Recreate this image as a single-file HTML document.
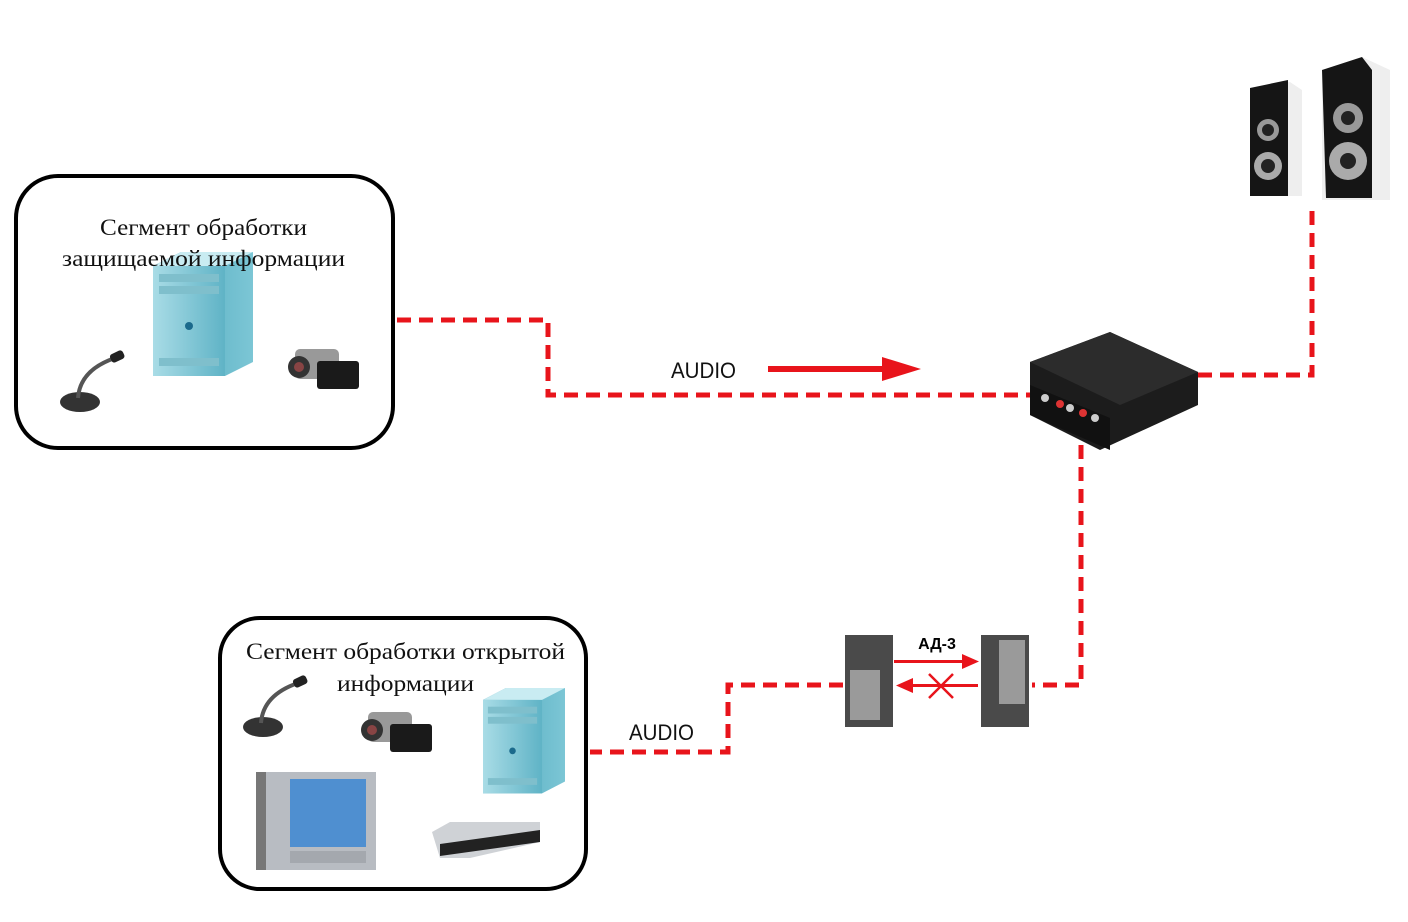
<!DOCTYPE html>
<html><head><meta charset="utf-8"><style>
html,body{margin:0;padding:0;background:#fff;}
svg{display:block;}
.seg{font-family:"Liberation Serif","Noto Serif CJK SC",serif;font-size:23px;fill:#111;}
.aud{font-family:"Liberation Sans",sans-serif;font-size:22px;fill:#111;}
.dash{fill:none;stroke:#e8141b;stroke-width:5;stroke-dasharray:14 8;}
</style></head><body>
<svg width="1408" height="922" viewBox="0 0 1408 922" xmlns="http://www.w3.org/2000/svg">
<defs>
<linearGradient id="pcF" x1="0" x2="1"><stop offset="0" stop-color="#a9dce6"/><stop offset="1" stop-color="#5fb3c6"/></linearGradient>
<linearGradient id="pcS" x1="0" x2="1"><stop offset="0" stop-color="#4aa5bb"/><stop offset="1" stop-color="#7cc6d5"/></linearGradient>
<g id="pc">
 <polygon points="0,14 28,0 100,0 100,110 72,124 0,124" fill="url(#pcS)"/>
 <rect x="0" y="14" width="72" height="110" fill="url(#pcF)"/>
 <polygon points="0,14 28,0 100,0 72,14" fill="#c9ecf2"/>
 <rect x="6" y="22" width="60" height="8" fill="#7fbfcc"/><rect x="6" y="34" width="60" height="8" fill="#7fbfcc"/>
 <circle cx="36" cy="74" r="4" fill="#1b6a8c"/>
 <rect x="6" y="106" width="60" height="8" fill="#7fbfcc"/>
</g>
<g id="mic">
 <ellipse cx="20" cy="52" rx="20" ry="10" fill="#333"/>
 <path d="M18,48 Q20,20 55,8" stroke="#555" stroke-width="4" fill="none"/>
 <rect x="50" y="2" width="14" height="9" rx="3" fill="#222" transform="rotate(-25 57 6)"/>
</g>
<g id="cam">
 <rect x="8" y="4" width="44" height="30" rx="5" fill="#999"/>
 <circle cx="12" cy="22" r="11" fill="#333"/><circle cx="12" cy="22" r="5" fill="#844"/>
 <rect x="30" y="16" width="42" height="28" rx="3" fill="#1a1a1a"/>
</g>
</defs>

<rect x="16" y="176" width="377" height="272" rx="42" fill="none" stroke="#000" stroke-width="4"/>
<use href="#pc" x="153" y="252"/>
<use href="#mic" x="60" y="350"/>
<use href="#cam" x="287" y="345"/>
<text class="seg" x="100" y="235" textLength="207" lengthAdjust="spacingAndGlyphs">Сегмент обработки</text>
<text class="seg" x="62" y="266" textLength="283" lengthAdjust="spacingAndGlyphs">защищаемой информации</text>

<rect x="220" y="618" width="366" height="271" rx="40" fill="none" stroke="#000" stroke-width="4"/>
<use href="#mic" x="243" y="675"/>
<use href="#cam" x="360" y="708"/>
<g transform="translate(483,688) scale(0.82,0.85)"><use href="#pc"/></g>
<rect x="256" y="772" width="120" height="98" fill="#b8bcc2"/>
<rect x="256" y="772" width="10" height="98" fill="#777"/>
<rect x="290" y="779" width="76" height="68" fill="#4f8fd0"/>
<rect x="290" y="851" width="76" height="12" fill="#a4a8ae"/>
<polygon points="432,832 450,822 540,822 540,842 470,858 440,858" fill="#cfd2d6"/>
<polygon points="440,844 540,830 540,842 440,856" fill="#222"/>
<text class="seg" x="246" y="659" textLength="319" lengthAdjust="spacingAndGlyphs">Сегмент обработки открытой</text>
<text class="seg" x="337" y="691" textLength="137" lengthAdjust="spacingAndGlyphs">информации</text>

<path class="dash" d="M397,320 H548 V395 H1035"/>
<text class="aud" x="671" y="378" textLength="65" lengthAdjust="spacingAndGlyphs">AUDIO</text>
<rect x="768" y="366" width="116" height="6" fill="#e8141b"/>
<polygon points="882,357 921,369 882,381" fill="#e8141b"/>

<polygon points="1030,362 1110,332 1198,372 1198,405 1100,450 1030,415" fill="#1c1c1c"/>
<polygon points="1030,362 1110,332 1198,372 1120,405" fill="#2c2c2c"/>
<polygon points="1030,385 1110,418 1110,450 1030,415" fill="#111"/>
<circle cx="1045" cy="398" r="4" fill="#ccc"/><circle cx="1060" cy="404" r="4" fill="#d33"/><circle cx="1070" cy="408" r="4" fill="#ccc"/><circle cx="1083" cy="413" r="4" fill="#d33"/><circle cx="1095" cy="418" r="4" fill="#ccc"/>
<path class="dash" d="M1198,375 H1312 V205"/>
<path class="dash" d="M1081,445 V685 H1032"/>

<polygon points="1250,88 1290,82 1302,90 1302,196 1250,196" fill="#eee"/>
<polygon points="1250,88 1288,80 1288,196 1250,196" fill="#151515"/>
<circle cx="1268" cy="130" r="11" fill="#999"/><circle cx="1268" cy="130" r="6" fill="#222"/>
<circle cx="1268" cy="166" r="14" fill="#aaa"/><circle cx="1268" cy="166" r="7" fill="#222"/>
<polygon points="1322,70 1362,57 1390,70 1390,200 1322,200" fill="#eee"/>
<polygon points="1322,70 1362,57 1372,70 1372,198 1326,198" fill="#151515"/>
<circle cx="1348" cy="118" r="15" fill="#999"/><circle cx="1348" cy="118" r="7" fill="#222"/>
<circle cx="1348" cy="161" r="19" fill="#aaa"/><circle cx="1348" cy="161" r="8" fill="#222"/>

<rect x="845" y="635" width="48" height="92" fill="#4a4a4a"/>
<rect x="850" y="670" width="30" height="50" fill="#9a9a9a"/>
<rect x="981" y="635" width="48" height="92" fill="#4a4a4a"/>
<rect x="999" y="640" width="26" height="64" fill="#9a9a9a"/>
<text x="937" y="649" text-anchor="middle" font-family="Liberation Sans,sans-serif" font-weight="bold" font-size="16">АД-3</text>
<rect x="894" y="660" width="70" height="3" fill="#e8141b"/>
<polygon points="962,654 979,661.5 962,669" fill="#e8141b"/>
<rect x="912" y="684" width="66" height="3" fill="#e8141b"/>
<polygon points="913,678 896,685.5 913,693" fill="#e8141b"/>
<path d="M929,674 L953,698 M953,674 L929,698" stroke="#e8141b" stroke-width="2.5"/>

<path class="dash" d="M843,685 H728 V752 H590"/>
<text class="aud" x="629" y="740" textLength="65" lengthAdjust="spacingAndGlyphs">AUDIO</text>
</svg>
</body></html>
